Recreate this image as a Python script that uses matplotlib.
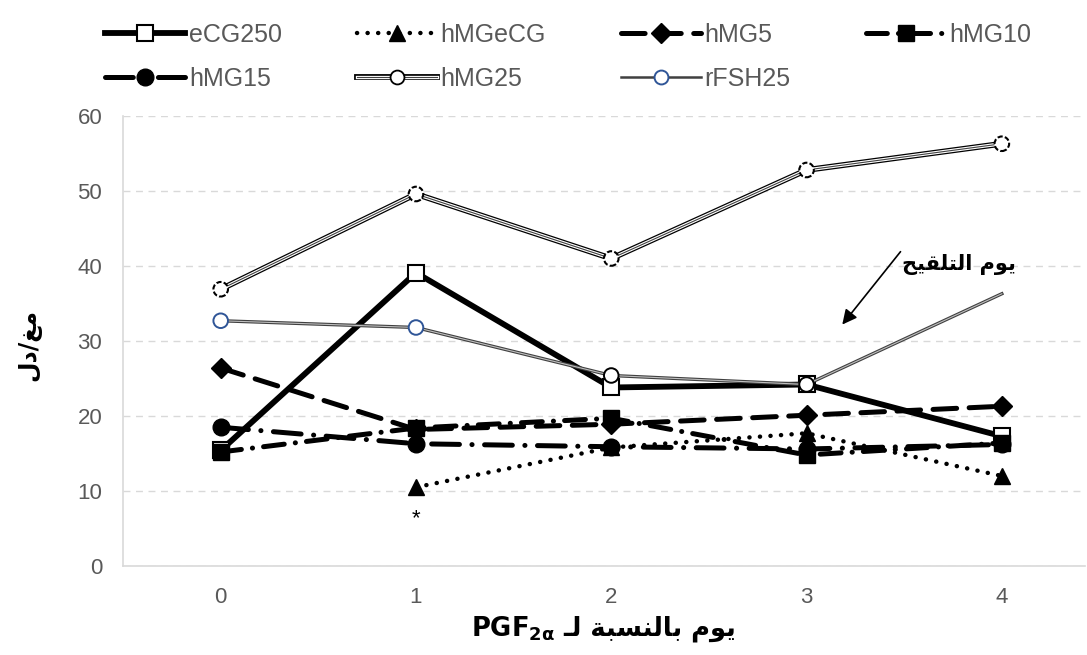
import numpy as np
import matplotlib
matplotlib.use('Agg')
import matplotlib.pyplot as plt
from matplotlib.lines import Line2D
from matplotlib.legend_handler import HandlerTuple

plt.rcParams['font.family'] = ['Liberation Sans', 'DejaVu Sans']
plt.rcParams['lines.scale_dashes'] = False

# days relative to PGF2a
days = [0, 1, 2, 3, 4]

eCG250 = [15.4, 39.1, 23.8, 24.2, 17.3]
hMGeCG = [np.nan, 10.5, 15.8, 17.7, 12.0]
hMG5 = [26.4, 18.2, 18.9, 20.1, 21.3]
hMG10 = [15.2, 18.4, 19.7, 14.8, 16.4]
hMG15 = [18.5, 16.3, 15.9, 15.6, 16.2]
hMG25 = [36.9, 49.6, 41.0, 52.8, 56.3]
rFSH25 = [32.7, 31.8, 25.4, 24.2, 36.3]

ytick_vals = [0, 10, 20, 30, 40, 50, 60]

# arabic text written in presentation forms (visual order)
xlabel_ar = '\u0640\uFEDF \uFE94\uFE92\uFEB4\uFEE8\uFEDF\uFE8E\uFE91 \uFEE1\uFEEE\uFEF3'
ylabel_ar = '\uFEDD\uFEA9/\uFECE\uFEE3'
note_ar = '\uFEA2\uFEF4\uFED8\uFEE0\uFE98\uFEDF\uFE8D \uFEE1\uFEEE\uFEF3'

fig = plt.figure(figsize=(10.87, 6.55), dpi=100)
ax = fig.add_axes([0.1132, 0.1359, 0.885, 0.687])

lw = 3.6
h_e, = ax.plot(days, eCG250, color='black', lw=4.2, marker='s', ms=11,
               mfc='white', mec='black', mew=1.5, zorder=3)
h_ec, = ax.plot(days, hMGeCG, color='black', lw=3.2, dashes=(0.1, 7.5),
                dash_capstyle='round', marker='^', ms=12, mfc='black', mec='black', zorder=3)
h_5, = ax.plot(days, hMG5, color='black', lw=lw, dashes=(17, 9),
               dash_capstyle='round', marker='D', ms=10, mfc='black', zorder=3)
h_10, = ax.plot(days, hMG10, color='black', lw=lw, dashes=(15, 8, 0.1, 8),
                dash_capstyle='round', marker='s', ms=11, mfc='black', zorder=3)
h_15, = ax.plot(days, hMG15, color='black', lw=lw, dashes=(20, 9, 0.1, 9),
                dash_capstyle='round', marker='o', ms=12, mfc='black', zorder=3)

# hMG25: compound double line + dashed open circles
ax.plot(days, hMG25, color='black', lw=4.2, zorder=4)
ax.plot(days, hMG25, color='white', lw=2.4, zorder=4)
ax.plot(days, hMG25, color='#404040', lw=0.8, zorder=4)
ax.scatter(days, hMG25, s=110, facecolors='white', edgecolors='black',
           linewidths=1.5, linestyles='--', zorder=5)

# rFSH25: thin compound line, open circles (last day without marker)
ax.plot(days, rFSH25, color='#404040', lw=2.4, zorder=4)
ax.plot(days, rFSH25, color='#bfbfbf', lw=0.8, zorder=4)
fsh_edges = ['#2f5597', '#2f5597', 'black', 'black']
ax.scatter(days[:4], rFSH25[:4], s=110, facecolors='white', edgecolors=fsh_edges,
           linewidths=1.4, zorder=5)

ax.set_xlim(-0.5, 4.426)
ax.set_ylim(0, 60)
ax.set_yticks(ytick_vals)
ax.set_xticks(days)
ax.tick_params(length=0, colors='#595959', labelsize=16)
ax.tick_params(axis='y', pad=15)
ax.tick_params(axis='x', pad=15)
ax.grid(axis='y', color='#d9d9d9', ls='--', lw=1, dashes=(5, 4))
for s in ['top', 'right']:
    ax.spines[s].set_visible(False)
for s in ['left', 'bottom']:
    ax.spines[s].set_color('#d9d9d9')
    ax.spines[s].set_linewidth(1.2)

ax.text(1.0, 6.3, '*', ha='center', va='center', fontsize=16, color='black')

ax.annotate('', xy=(3.174, 31.9), xytext=(3.49, 42.2),
            arrowprops=dict(arrowstyle='-|>', color='black', lw=1.2,
                            mutation_scale=22))
ax.text(4.07, 40.2, note_ar, ha='right', va='center', fontsize=15,
        fontweight='bold', family=['DejaVu Sans'])

fig.text(0.518, 0.040, xlabel_ar, ha='left', va='center', fontsize=18.5,
         fontweight='bold', family=['DejaVu Sans'])
fig.text(0.511, 0.040, r'PGF$_{\mathbf{2\alpha}}$', ha='right', va='center',
         fontsize=18.5, fontweight='bold', family=['DejaVu Sans'])
fig.text(0.027, 0.473, ylabel_ar, rotation=90, ha='center', va='center',
         fontsize=17, fontweight='bold', family=['DejaVu Sans'])

# legend proxy for hMG25
l25a = Line2D([], [], color='black', lw=4.2)
l25b = Line2D([], [], color='white', lw=2.4)
l25c = Line2D([], [], color='#404040', lw=0.8, marker='o', ms=10, mfc='white',
              mec='black', mew=1.3)
l_fsh = Line2D([], [], color='#404040', lw=1.8, marker='o', ms=10,
               mfc='white', mec='#2f5597', mew=1.4)

handles = [h_e, h_15, h_ec, (l25a, l25b, l25c), h_5, l_fsh, h_10]
labels = ['eCG250', 'hMG15', 'hMGeCG', 'hMG25', 'hMG5', 'rFSH25', 'hMG10']
leg = fig.legend(handles, labels, ncol=4, loc='upper left',
                 bbox_to_anchor=(0.076, 1.0), frameon=False, fontsize=18,
                 handlelength=3.2, handletextpad=0.15, columnspacing=3.0,
                 labelspacing=0.8, labelcolor='#595959',
                 handler_map={tuple: HandlerTuple(ndivide=1, pad=0)})

fig.savefig('out.png', dpi=100)
